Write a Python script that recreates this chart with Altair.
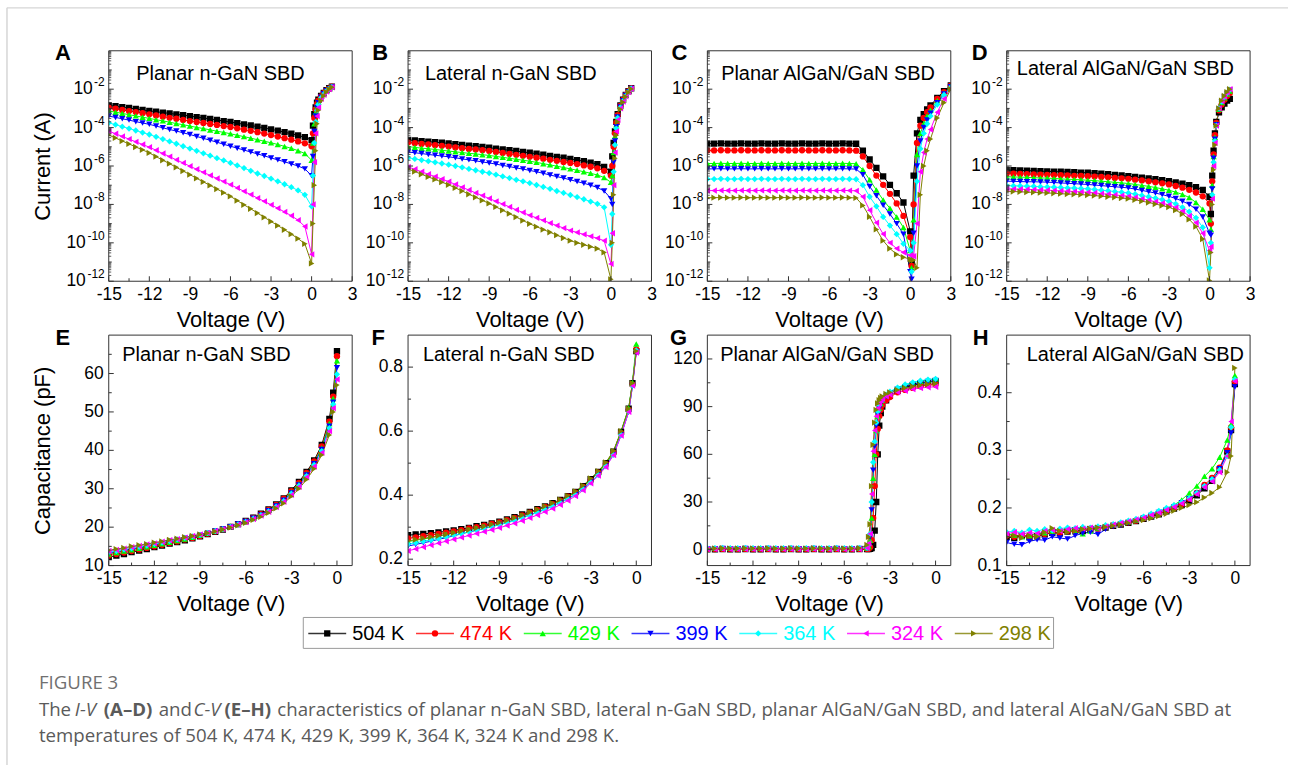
import altair as alt
import pandas as pd

SERIES = ["504 K", "474 K", "429 K", "399 K", "364 K", "324 K", "298 K"]
COLORS = ["#000000", "#ff0000", "#00ff00", "#0000ff", "#00ffff", "#ff00ff", "#808000"]
SHAPES = ["square", "circle", "triangle-up", "triangle-down", "diamond", "triangle-left", "triangle-right"]

# ---------------- voltages ----------------
V_REV = [-15, -14.5, -14, -13.5, -13, -12.5, -12, -11.5, -11, -10.5, -10, -9.5, -9, -8.5, -8, -7.5,
         -7, -6.5, -6, -5.5, -5, -4.5, -4, -3.5, -3, -2.5, -2, -1.5, -1, -0.5, 0]
V_FWD = [0.1, 0.2, 0.3, 0.4, 0.5, 0.7, 0.9, 1.1, 1.3, 1.5]
V_FWD_C = [0.1, 0.25, 0.5, 0.75, 1.0, 1.25, 1.5, 2.0, 2.5, 3.0]
V_CV = [-15, -14.5, -14, -13.5, -13, -12.5, -12, -11.5, -11, -10.5, -10, -9.5, -9, -8.5, -8, -7.5,
        -7, -6.5, -6, -5.5, -5, -4.5, -4, -3.5, -3, -2.5, -2, -1.5, -1, -0.5, -0.25, 0]
V_G = [-15, -14.5, -14, -13.5, -13, -12.5, -12, -11.5, -11, -10.5, -10, -9.5, -9, -8.5, -8, -7.5,
       -7, -6.5, -6, -5.5, -5, -4.5, -4.4, -4.3, -4.2, -4.1, -4.0, -3.9, -3.8, -3.7, -3.6, -3.5,
       -3.25, -3.0, -2.5, -2.0, -1.5, -1.0, -0.5, 0]

# ---------------- I-V data: log10 |I| (A) ----------------
A_REV = [
    [-2.84, -2.89, -2.94, -2.98, -3.03, -3.08, -3.13, -3.17, -3.22, -3.26, -3.31, -3.35, -3.40, -3.45, -3.50, -3.55, -3.60, -3.66, -3.71, -3.77, -3.83, -3.89, -3.95, -4.02, -4.09, -4.16, -4.24, -4.32, -4.41, -4.50, -4.65],
    [-2.96, -3.02, -3.08, -3.14, -3.19, -3.25, -3.31, -3.37, -3.43, -3.49, -3.54, -3.60, -3.66, -3.71, -3.76, -3.81, -3.86, -3.92, -3.97, -4.04, -4.11, -4.17, -4.24, -4.31, -4.39, -4.47, -4.55, -4.63, -4.72, -4.82, -4.97],
    [-3.13, -3.20, -3.26, -3.33, -3.39, -3.46, -3.52, -3.59, -3.65, -3.72, -3.79, -3.85, -3.92, -3.99, -4.05, -4.12, -4.19, -4.25, -4.32, -4.40, -4.47, -4.55, -4.63, -4.71, -4.79, -4.88, -4.98, -5.08, -5.20, -5.35, -5.70],
    [-3.40, -3.47, -3.54, -3.61, -3.69, -3.76, -3.83, -3.92, -4.01, -4.10, -4.18, -4.27, -4.36, -4.46, -4.56, -4.66, -4.76, -4.87, -4.97, -5.07, -5.17, -5.27, -5.37, -5.47, -5.58, -5.68, -5.78, -5.89, -6.00, -6.15, -6.50],
    [-3.75, -3.85, -3.95, -4.05, -4.15, -4.26, -4.36, -4.48, -4.60, -4.72, -4.84, -4.97, -5.09, -5.21, -5.34, -5.46, -5.59, -5.71, -5.84, -5.97, -6.11, -6.25, -6.39, -6.52, -6.66, -6.80, -6.95, -7.10, -7.27, -7.50, -8.10],
    [-4.18, -4.32, -4.46, -4.60, -4.74, -4.88, -5.02, -5.18, -5.35, -5.51, -5.68, -5.84, -6.01, -6.17, -6.33, -6.49, -6.65, -6.81, -6.97, -7.14, -7.32, -7.49, -7.67, -7.84, -8.02, -8.20, -8.39, -8.59, -8.82, -9.15, -10.60],
    [-4.39, -4.54, -4.70, -4.85, -5.01, -5.16, -5.32, -5.51, -5.70, -5.88, -6.07, -6.26, -6.45, -6.64, -6.83, -7.01, -7.20, -7.39, -7.58, -7.80, -8.02, -8.23, -8.45, -8.67, -8.89, -9.10, -9.32, -9.55, -9.78, -10.05, -11.07],
]
A_FWD = [
    [-3.90, -3.30, -2.95, -2.70, -2.55, -2.35, -2.20, -2.05, -1.95, -1.87],
    [-4.30, -3.50, -3.05, -2.78, -2.60, -2.37, -2.21, -2.06, -1.96, -1.87],
    [-4.80, -3.80, -3.20, -2.85, -2.65, -2.40, -2.22, -2.07, -1.96, -1.88],
    [-5.50, -4.20, -3.40, -2.95, -2.70, -2.42, -2.24, -2.08, -1.97, -1.88],
    [-6.50, -4.80, -3.70, -3.10, -2.80, -2.45, -2.26, -2.10, -1.98, -1.89],
    [-8.00, -5.80, -4.30, -3.40, -2.95, -2.50, -2.30, -2.12, -2.00, -1.90],
    [-9.00, -7.00, -5.20, -3.80, -3.10, -2.60, -2.35, -2.15, -2.00, -1.90],
]
B_REV = [
    [-4.64, -4.67, -4.70, -4.73, -4.76, -4.79, -4.82, -4.86, -4.90, -4.94, -4.97, -5.01, -5.05, -5.09, -5.14, -5.18, -5.22, -5.27, -5.31, -5.36, -5.41, -5.47, -5.52, -5.57, -5.63, -5.69, -5.75, -5.82, -5.90, -6.05, -6.30],
    [-4.78, -4.81, -4.85, -4.88, -4.92, -4.95, -4.99, -5.03, -5.07, -5.11, -5.14, -5.18, -5.22, -5.27, -5.32, -5.37, -5.42, -5.47, -5.52, -5.57, -5.62, -5.68, -5.73, -5.79, -5.84, -5.90, -5.97, -6.04, -6.12, -6.25, -6.50],
    [-4.99, -5.03, -5.07, -5.10, -5.14, -5.18, -5.22, -5.26, -5.30, -5.34, -5.37, -5.41, -5.45, -5.50, -5.55, -5.60, -5.65, -5.70, -5.75, -5.81, -5.88, -5.94, -6.01, -6.08, -6.15, -6.22, -6.30, -6.38, -6.47, -6.60, -6.85],
    [-5.27, -5.31, -5.35, -5.40, -5.44, -5.48, -5.52, -5.57, -5.63, -5.68, -5.73, -5.79, -5.84, -5.90, -5.97, -6.03, -6.10, -6.16, -6.23, -6.30, -6.38, -6.47, -6.55, -6.63, -6.72, -6.81, -6.90, -7.00, -7.12, -7.30, -7.70],
    [-5.57, -5.63, -5.69, -5.75, -5.81, -5.87, -5.93, -6.00, -6.07, -6.15, -6.22, -6.30, -6.37, -6.45, -6.54, -6.63, -6.72, -6.80, -6.89, -6.99, -7.09, -7.19, -7.30, -7.40, -7.51, -7.62, -7.73, -7.85, -7.97, -8.15, -10.10],
    [-6.05, -6.17, -6.30, -6.43, -6.55, -6.68, -6.81, -6.96, -7.11, -7.25, -7.40, -7.54, -7.69, -7.84, -7.98, -8.13, -8.28, -8.42, -8.57, -8.70, -8.83, -8.97, -9.10, -9.23, -9.36, -9.46, -9.56, -9.66, -9.76, -9.89, -11.10],
    [-6.15, -6.29, -6.43, -6.57, -6.70, -6.84, -6.98, -7.14, -7.30, -7.47, -7.63, -7.79, -7.95, -8.13, -8.31, -8.48, -8.66, -8.84, -9.01, -9.16, -9.31, -9.45, -9.60, -9.75, -9.89, -10.00, -10.10, -10.20, -10.30, -10.50, -11.90],
]
B_FWD = [
    [-5.50, -4.80, -4.20, -3.70, -3.30, -2.85, -2.55, -2.30, -2.10, -1.95],
    [-6.00, -5.00, -4.30, -3.75, -3.35, -2.87, -2.56, -2.30, -2.10, -1.95],
    [-6.50, -5.30, -4.45, -3.85, -3.40, -2.90, -2.58, -2.32, -2.12, -1.96],
    [-8.00, -5.80, -4.70, -3.95, -3.45, -2.93, -2.60, -2.33, -2.13, -1.96],
    [-8.50, -6.30, -4.90, -4.05, -3.50, -2.95, -2.62, -2.35, -2.14, -1.97],
    [-9.50, -7.00, -5.30, -4.20, -3.60, -3.00, -2.65, -2.37, -2.15, -1.98],
    [-10.00, -7.50, -5.60, -4.40, -3.70, -3.05, -2.68, -2.40, -2.17, -1.99],
]
C_REV = [
    [-4.83, -4.83, -4.82, -4.83, -4.83, -4.82, -4.83, -4.83, -4.82, -4.83, -4.83, -4.82, -4.83, -4.83, -4.82, -4.83, -4.83, -4.82, -4.83, -4.83, -4.82, -4.83, -4.84, -5.20, -5.66, -6.10, -6.54, -6.98, -7.42, -7.90, -9.40],
    [-5.19, -5.19, -5.18, -5.19, -5.19, -5.18, -5.19, -5.19, -5.18, -5.19, -5.19, -5.18, -5.19, -5.19, -5.18, -5.19, -5.19, -5.18, -5.19, -5.19, -5.18, -5.19, -5.20, -5.50, -6.00, -6.50, -6.98, -7.45, -7.95, -8.60, -9.70],
    [-5.87, -5.87, -5.86, -5.87, -5.87, -5.86, -5.87, -5.87, -5.86, -5.87, -5.87, -5.86, -5.87, -5.87, -5.86, -5.87, -5.87, -5.86, -5.87, -5.87, -5.86, -5.87, -5.88, -6.20, -6.72, -7.25, -7.77, -8.20, -8.65, -9.20, -10.40],
    [-6.15, -6.15, -6.14, -6.15, -6.15, -6.14, -6.15, -6.15, -6.14, -6.15, -6.15, -6.14, -6.15, -6.15, -6.14, -6.15, -6.15, -6.14, -6.15, -6.15, -6.14, -6.15, -6.16, -6.45, -7.07, -7.55, -8.04, -8.50, -9.00, -9.55, -11.50],
    [-6.68, -6.68, -6.67, -6.68, -6.68, -6.67, -6.68, -6.68, -6.67, -6.68, -6.68, -6.67, -6.68, -6.68, -6.67, -6.68, -6.68, -6.67, -6.68, -6.68, -6.67, -6.68, -6.69, -7.00, -7.60, -8.10, -8.65, -9.10, -9.55, -10.05, -10.40],
    [-7.28, -7.28, -7.27, -7.28, -7.28, -7.27, -7.28, -7.28, -7.27, -7.28, -7.28, -7.27, -7.28, -7.28, -7.27, -7.28, -7.28, -7.27, -7.28, -7.28, -7.27, -7.28, -7.29, -7.60, -8.30, -8.95, -9.54, -10.00, -10.30, -10.50, -10.65],
    [-7.65, -7.65, -7.64, -7.65, -7.65, -7.64, -7.65, -7.65, -7.64, -7.65, -7.65, -7.64, -7.65, -7.65, -7.64, -7.65, -7.65, -7.64, -7.65, -7.65, -7.64, -7.65, -7.66, -8.05, -8.65, -9.30, -9.89, -10.30, -10.60, -10.75, -10.85],
]
C_FWD = [
    [-11.0, -6.5, -4.3, -3.6, -3.3, -3.05, -2.85, -2.45, -2.10, -1.80],
    [-11.2, -8.0, -4.8, -3.9, -3.5, -3.20, -2.95, -2.50, -2.15, -1.82],
    [-11.3, -8.8, -5.4, -4.3, -3.8, -3.40, -3.10, -2.60, -2.20, -1.85],
    [-11.9, -9.5, -6.0, -4.7, -4.0, -3.60, -3.25, -2.70, -2.25, -1.87],
    [-11.5, -10.0, -6.8, -5.1, -4.3, -3.80, -3.40, -2.80, -2.30, -1.90],
    [-10.7, -10.7, -9.0, -6.3, -5.3, -4.60, -4.10, -3.20, -2.50, -1.95],
    [-10.9, -10.9, -11.3, -7.5, -6.0, -5.20, -4.60, -3.50, -2.70, -2.00],
]
D_REV = [
    [-6.21, -6.22, -6.23, -6.24, -6.25, -6.27, -6.28, -6.29, -6.30, -6.31, -6.32, -6.34, -6.35, -6.37, -6.40, -6.43, -6.46, -6.49, -6.53, -6.57, -6.61, -6.65, -6.69, -6.74, -6.79, -6.85, -6.92, -7.00, -7.10, -7.25, -7.60],
    [-6.39, -6.40, -6.41, -6.42, -6.44, -6.45, -6.46, -6.47, -6.48, -6.49, -6.51, -6.52, -6.53, -6.55, -6.57, -6.59, -6.62, -6.64, -6.67, -6.71, -6.75, -6.80, -6.85, -6.90, -6.96, -7.04, -7.13, -7.24, -7.38, -7.58, -7.95],
    [-6.56, -6.57, -6.58, -6.59, -6.61, -6.62, -6.63, -6.65, -6.67, -6.69, -6.70, -6.72, -6.74, -6.76, -6.79, -6.82, -6.85, -6.88, -6.91, -6.96, -7.01, -7.06, -7.12, -7.19, -7.26, -7.36, -7.48, -7.64, -7.90, -8.25, -8.80],
    [-6.79, -6.80, -6.81, -6.82, -6.82, -6.83, -6.84, -6.86, -6.88, -6.90, -6.92, -6.94, -6.96, -6.99, -7.02, -7.05, -7.08, -7.11, -7.14, -7.20, -7.27, -7.34, -7.41, -7.49, -7.58, -7.69, -7.83, -8.00, -8.25, -8.65, -9.50],
    [-7.02, -7.03, -7.04, -7.05, -7.06, -7.08, -7.09, -7.10, -7.12, -7.14, -7.15, -7.17, -7.19, -7.22, -7.26, -7.29, -7.33, -7.36, -7.40, -7.46, -7.53, -7.60, -7.67, -7.75, -7.84, -7.97, -8.15, -8.38, -8.70, -9.20, -11.30],
    [-7.19, -7.20, -7.21, -7.22, -7.23, -7.25, -7.26, -7.28, -7.30, -7.31, -7.33, -7.35, -7.37, -7.40, -7.44, -7.47, -7.51, -7.54, -7.58, -7.64, -7.71, -7.78, -7.86, -7.94, -8.02, -8.16, -8.35, -8.60, -8.95, -9.50, -10.40],
    [-7.32, -7.33, -7.34, -7.36, -7.37, -7.39, -7.40, -7.42, -7.44, -7.46, -7.47, -7.49, -7.51, -7.54, -7.57, -7.60, -7.63, -7.67, -7.70, -7.76, -7.83, -7.90, -7.98, -8.06, -8.14, -8.30, -8.50, -8.78, -9.15, -9.80, -11.96],
]
D_FWD = [
    [-8.5, -6.5, -5.2, -4.3, -3.70, -3.2, -2.95, -2.75, -2.60, -2.50],
    [-9.0, -6.8, -5.4, -4.4, -3.75, -3.1, -2.80, -2.55, -2.35, -2.20],
    [-9.3, -7.0, -5.5, -4.5, -3.80, -3.05, -2.70, -2.45, -2.25, -2.10],
    [-9.6, -7.2, -5.6, -4.6, -3.85, -3.05, -2.68, -2.42, -2.22, -2.05],
    [-10.0, -7.5, -5.8, -4.7, -3.90, -3.0, -2.65, -2.40, -2.20, -2.03],
    [-10.2, -7.7, -6.0, -4.8, -3.90, -3.0, -2.62, -2.37, -2.17, -2.00],
    [-10.5, -8.0, -6.2, -4.9, -3.90, -3.0, -2.60, -2.35, -2.15, -2.00],
]

# ---------------- C-V data ----------------
E_C = [  # pF
    [12.2, 12.6, 13.0, 13.5, 13.9, 14.3, 14.8, 15.2, 15.7, 16.1, 16.6, 17.1, 17.6, 18.2, 18.8, 19.4, 20.1, 20.8, 21.6, 22.5, 23.5, 24.6, 25.9, 27.5, 29.6, 31.8, 34.4, 37.4, 41.4, 48.2, 55.0, 65.8],
    [12.6, 13.0, 13.4, 13.8, 14.2, 14.6, 15.0, 15.4, 15.9, 16.3, 16.8, 17.2, 17.7, 18.3, 18.9, 19.5, 20.1, 20.8, 21.5, 22.4, 23.4, 24.5, 25.8, 27.4, 29.4, 31.5, 34.1, 37.1, 41.0, 47.5, 54.0, 64.5],
    [13.0, 13.4, 13.8, 14.1, 14.5, 14.9, 15.3, 15.7, 16.1, 16.5, 16.9, 17.4, 17.9, 18.4, 19.0, 19.6, 20.2, 20.9, 21.6, 22.4, 23.3, 24.4, 25.7, 27.2, 29.2, 31.3, 33.9, 36.8, 40.6, 47.0, 53.5, 63.3],
    [13.3, 13.6, 14.0, 14.3, 14.7, 15.1, 15.5, 15.9, 16.3, 16.7, 17.1, 17.5, 17.9, 18.4, 19.0, 19.5, 20.1, 20.8, 21.5, 22.3, 23.2, 24.3, 25.5, 27.0, 28.9, 31.0, 33.6, 36.5, 40.2, 46.3, 52.5, 61.5],
    [13.5, 13.8, 14.2, 14.5, 14.9, 15.2, 15.6, 16.0, 16.4, 16.8, 17.2, 17.6, 18.0, 18.5, 19.0, 19.5, 20.1, 20.7, 21.4, 22.2, 23.1, 24.1, 25.3, 26.8, 28.7, 30.8, 33.3, 36.2, 39.8, 45.8, 52.0, 59.8],
    [13.8, 14.1, 14.4, 14.8, 15.1, 15.5, 15.8, 16.2, 16.6, 16.9, 17.3, 17.7, 18.1, 18.5, 19.0, 19.5, 20.1, 20.7, 21.3, 22.1, 23.0, 24.0, 25.2, 26.6, 28.4, 30.5, 33.0, 35.8, 39.4, 45.0, 51.0, 58.5],
    [14.0, 14.3, 14.6, 15.0, 15.3, 15.6, 16.0, 16.3, 16.7, 17.0, 17.4, 17.7, 18.1, 18.5, 18.9, 19.4, 19.9, 20.5, 21.1, 21.9, 22.7, 23.7, 24.9, 26.2, 28.0, 30.0, 32.4, 35.2, 38.8, 44.0, 50.0, 57.0],
]
F_C = [  # pF
    [0.275, 0.277, 0.279, 0.281, 0.284, 0.287, 0.290, 0.294, 0.298, 0.303, 0.307, 0.312, 0.317, 0.324, 0.331, 0.340, 0.348, 0.356, 0.365, 0.375, 0.385, 0.397, 0.410, 0.428, 0.450, 0.473, 0.500, 0.536, 0.598, 0.670, 0.750, 0.850],
    [0.265, 0.268, 0.272, 0.275, 0.279, 0.283, 0.287, 0.291, 0.296, 0.300, 0.305, 0.310, 0.315, 0.322, 0.329, 0.337, 0.345, 0.354, 0.363, 0.372, 0.383, 0.395, 0.408, 0.426, 0.447, 0.470, 0.497, 0.533, 0.594, 0.666, 0.745, 0.855],
    [0.255, 0.259, 0.263, 0.267, 0.272, 0.277, 0.282, 0.287, 0.292, 0.297, 0.302, 0.307, 0.313, 0.320, 0.328, 0.336, 0.344, 0.353, 0.362, 0.372, 0.383, 0.395, 0.408, 0.426, 0.448, 0.471, 0.498, 0.535, 0.598, 0.672, 0.752, 0.872],
    [0.241, 0.246, 0.251, 0.256, 0.262, 0.267, 0.273, 0.279, 0.285, 0.290, 0.296, 0.302, 0.308, 0.315, 0.322, 0.330, 0.338, 0.347, 0.356, 0.366, 0.377, 0.389, 0.402, 0.420, 0.441, 0.464, 0.491, 0.527, 0.588, 0.660, 0.740, 0.848],
    [0.247, 0.251, 0.256, 0.260, 0.265, 0.270, 0.275, 0.280, 0.286, 0.291, 0.296, 0.302, 0.307, 0.314, 0.321, 0.329, 0.337, 0.346, 0.355, 0.365, 0.376, 0.388, 0.401, 0.419, 0.440, 0.463, 0.490, 0.526, 0.588, 0.662, 0.742, 0.852],
    [0.226, 0.232, 0.238, 0.244, 0.250, 0.256, 0.262, 0.268, 0.274, 0.280, 0.286, 0.292, 0.298, 0.305, 0.312, 0.320, 0.329, 0.338, 0.348, 0.358, 0.370, 0.383, 0.397, 0.415, 0.437, 0.461, 0.488, 0.525, 0.586, 0.660, 0.742, 0.845],
    [0.257, 0.261, 0.265, 0.269, 0.273, 0.277, 0.282, 0.287, 0.292, 0.297, 0.302, 0.308, 0.314, 0.321, 0.329, 0.337, 0.346, 0.355, 0.365, 0.375, 0.386, 0.398, 0.412, 0.430, 0.452, 0.475, 0.502, 0.538, 0.600, 0.670, 0.750, 0.850],
]
G_C = [  # pF
    [0.2, 0.2, 0.3, 0.2, 0.2, 0.3, 0.2, 0.2, 0.3, 0.2, 0.2, 0.3, 0.2, 0.2, 0.3, 0.2, 0.2, 0.3, 0.2, 0.2, 0.3,
     0.3, 0.4, 0.5, 1.0, 3.0, 12, 30, 60, 78, 86, 90, 94, 97, 100, 102, 103.5, 104.5, 105.3, 106],
    [0.4, 0.4, 0.5, 0.4, 0.4, 0.5, 0.4, 0.4, 0.5, 0.4, 0.4, 0.5, 0.4, 0.4, 0.5, 0.4, 0.4, 0.5, 0.4, 0.4, 0.5,
     0.5, 0.6, 1.5, 6, 20, 40, 60, 76, 84, 88, 91, 94, 96, 99, 100.5, 101.8, 102.8, 103.5, 104],
    [0.9, 0.9, 1.0, 0.9, 0.9, 1.0, 0.9, 0.9, 1.0, 0.9, 0.9, 1.0, 0.9, 0.9, 1.0, 0.9, 0.9, 1.0, 0.9, 0.9, 1.0,
     1.0, 2, 6, 20, 45, 60, 75, 84, 89, 92, 94, 97, 99, 102, 103.5, 105, 106, 106.8, 107.5],
    [0.6, 0.6, 0.7, 0.6, 0.6, 0.7, 0.6, 0.6, 0.7, 0.6, 0.6, 0.7, 0.6, 0.6, 0.7, 0.6, 0.6, 0.7, 0.6, 0.6, 0.7,
     0.8, 2, 8, 25, 50, 65, 78, 85, 89, 92, 94, 96.5, 98.5, 101, 102.5, 104, 105, 105.8, 106.5],
    [1.0, 1.0, 1.1, 1.0, 1.0, 1.1, 1.0, 1.0, 1.1, 1.0, 1.0, 1.1, 1.0, 1.0, 1.1, 1.0, 1.0, 1.1, 1.0, 1.0, 1.1,
     1.2, 3, 10, 30, 55, 68, 80, 87, 91, 93.5, 95, 97.5, 99.5, 102, 104, 105.3, 106.3, 107, 107.5],
    [0.3, 0.3, 0.4, 0.3, 0.3, 0.4, 0.3, 0.3, 0.4, 0.3, 0.3, 0.4, 0.3, 0.3, 0.4, 0.3, 0.3, 0.4, 0.3, 0.3, 0.4,
     1.0, 4, 10, 35, 62, 75, 84, 89, 92, 94, 95, 96.5, 97.5, 99, 100, 101, 101.7, 102.2, 102.5],
    [0.8, 0.8, 0.9, 0.8, 0.8, 0.9, 0.8, 0.8, 0.9, 0.8, 0.8, 0.9, 0.8, 0.8, 0.9, 0.8, 0.8, 0.9, 0.8, 0.8, 1.0,
     3, 8, 16, 40, 66, 80, 88, 92, 94, 95.5, 96.5, 98, 99, 100.5, 101.8, 102.7, 103.4, 104, 104.5],
]
H_C = [  # pF
    [0.150, 0.148, 0.152, 0.149, 0.151, 0.154, 0.157, 0.156, 0.159, 0.161, 0.160, 0.163, 0.165, 0.166, 0.169, 0.171, 0.174, 0.177, 0.181, 0.185, 0.189, 0.194, 0.199, 0.205, 0.213, 0.222, 0.234, 0.247, 0.266, 0.298, 0.335, 0.415],
    [0.152, 0.150, 0.153, 0.151, 0.150, 0.155, 0.158, 0.157, 0.160, 0.158, 0.162, 0.164, 0.164, 0.167, 0.170, 0.172, 0.175, 0.178, 0.182, 0.186, 0.190, 0.195, 0.200, 0.207, 0.216, 0.226, 0.240, 0.252, 0.270, 0.300, 0.340, 0.420],
    [0.155, 0.153, 0.150, 0.152, 0.155, 0.157, 0.160, 0.162, 0.164, 0.159, 0.155, 0.160, 0.165, 0.168, 0.171, 0.173, 0.176, 0.179, 0.183, 0.187, 0.192, 0.198, 0.205, 0.214, 0.226, 0.238, 0.255, 0.268, 0.288, 0.318, 0.345, 0.430],
    [0.140, 0.137, 0.136, 0.142, 0.145, 0.144, 0.150, 0.148, 0.146, 0.152, 0.156, 0.158, 0.154, 0.163, 0.168, 0.170, 0.174, 0.178, 0.182, 0.187, 0.192, 0.197, 0.202, 0.209, 0.216, 0.225, 0.236, 0.249, 0.268, 0.296, 0.330, 0.410],
    [0.158, 0.160, 0.157, 0.162, 0.160, 0.163, 0.161, 0.164, 0.166, 0.165, 0.167, 0.166, 0.168, 0.170, 0.172, 0.175, 0.178, 0.181, 0.185, 0.190, 0.195, 0.200, 0.205, 0.210, 0.217, 0.226, 0.238, 0.250, 0.266, 0.290, 0.340, 0.423],
    [0.155, 0.158, 0.155, 0.157, 0.156, 0.160, 0.162, 0.160, 0.163, 0.165, 0.164, 0.166, 0.165, 0.168, 0.171, 0.174, 0.177, 0.180, 0.183, 0.188, 0.192, 0.197, 0.202, 0.208, 0.215, 0.224, 0.236, 0.246, 0.262, 0.290, 0.350, 0.420],
    [0.150, 0.152, 0.148, 0.152, 0.150, 0.158, 0.165, 0.160, 0.158, 0.160, 0.163, 0.164, 0.166, 0.167, 0.169, 0.171, 0.174, 0.177, 0.179, 0.182, 0.186, 0.190, 0.195, 0.200, 0.205, 0.210, 0.218, 0.226, 0.236, 0.262, 0.290, 0.443],
]

# ---------------- axis ticks & labels ----------------
X_TOP = [-15, -12, -9, -6, -3, 0, 3]
X_TOP_MINOR = [-13.5, -10.5, -7.5, -4.5, -1.5, 1.5]
X_BOT = [-15, -12, -9, -6, -3, 0]
X_BOT_MINOR = [-13.5, -10.5, -7.5, -4.5, -1.5]
IV_TICKS = [1e-2, 1e-4, 1e-6, 1e-8, 1e-10, 1e-12]
IV_EXP = ["-2", "-4", "-6", "-8", "-10", "-12"]
IV_ODD = [1e-1, 1e-3, 1e-5, 1e-7, 1e-9, 1e-11]
IV_MINOR = [m * 10.0 ** k for k in range(-12, 0) for m in range(2, 10)]
E_TICKS, E_LAB, E_MINOR = [10, 20, 30, 40, 50, 60], ["10", "20", "30", "40", "50", "60"], [15, 25, 35, 45, 55, 65]
F_TICKS, F_LAB, F_MINOR = [0.2, 0.4, 0.6, 0.8], ["0.2", "0.4", "0.6", "0.8"], [0.3, 0.5, 0.7]
G_TICKS, G_LAB, G_MINOR = [0, 30, 60, 90, 120], ["0", "30", "60", "90", "120"], [15, 45, 75, 105]
H_TICKS, H_LAB, H_MINOR = [0.1, 0.2, 0.3, 0.4], ["0.1", "0.2", "0.3", "0.4"], [0.15, 0.25, 0.35, 0.45]

TITLES = ["Planar n-GaN SBD", "Lateral n-GaN SBD", "Planar AlGaN/GaN SBD", "Lateral AlGaN/GaN SBD"]

# ---------------- helpers ----------------
FONT = "Liberation Sans"
W, H = 244, 231
INK = "#333333"
ONE = pd.DataFrame({"o": [0]})
MSIZE = 40

color = alt.Color("T:N", scale=alt.Scale(domain=SERIES, range=COLORS), legend=None)
shape = alt.Shape("T:N", scale=alt.Scale(domain=SERIES, range=SHAPES), legend=None)


def long_iv(vr, rev, vf, fwd):
    rows = []
    for k, s in enumerate(SERIES):
        xs = vr + vf
        es = rev[k] + fwd[k]
        assert len(xs) == len(es), (s, len(xs), len(es))
        for v, e in zip(xs, es):
            rows.append({"V": v, "Y": 10.0 ** e, "T": s})
    return pd.DataFrame(rows)


def long_cv(vs, vals):
    rows = []
    for k, s in enumerate(SERIES):
        assert len(vs) == len(vals[k]), (s, len(vs), len(vals[k]))
        for v, c in zip(vs, vals[k]):
            rows.append({"V": v, "Y": c, "T": s})
    return pd.DataFrame(rows)


def txt(text, x, y, size, weight="normal", align="center", col="black", font=FONT, style="normal", angle=0):
    return alt.Chart(ONE).mark_text(text=text, fontSize=size, fontWeight=weight, align=align,
                                    baseline="middle", color=col, font=font, fontStyle=style,
                                    angle=angle).encode(x=alt.value(x), y=alt.value(y))


def panel(df, xdom, xlab, xminor, ydom, ylog, ymaj, ymin, ylab, letter, lx, ly, title, tx, ty,
          ytitle=None, extra=()):
    xs = alt.Scale(domain=xdom, nice=False, zero=False)
    if ylog:
        ys = alt.Scale(type="log", domain=ydom, nice=False)
    else:
        ys = alt.Scale(domain=ydom, nice=False, zero=False)
    xaxis = alt.Axis(values=xlab, labelExpr="toString(datum.value)", labelFont=FONT, labelFontSize=17.5,
                     labelColor="black", labelPadding=4, labelFlush=False, labelOverlap=False,
                     ticks=False, domain=False, grid=False, title="Voltage (V)", titleFont=FONT,
                     titleFontSize=22, titleFontWeight="normal", titleColor="black", titleY=38,
                     titleBaseline="middle")
    X = alt.X("V:Q", scale=xs, axis=xaxis)
    Y = alt.Y("Y:Q", scale=ys, axis=None)
    layers = list(extra)
    layers.append(alt.Chart(df).mark_line(strokeWidth=1, clip=True).encode(x=X, y=Y, color=color))
    layers.append(alt.Chart(df).mark_point(filled=True, size=MSIZE, opacity=1, clip=True)
                  .encode(x=X, y=Y, color=color, shape=shape))
    layers.append(alt.Chart(pd.DataFrame({"V": xlab})).mark_rule(color=INK)
                  .encode(x=X, y=alt.value(H), y2=alt.value(H - 5)))
    layers.append(alt.Chart(pd.DataFrame({"V": xminor})).mark_rule(color=INK)
                  .encode(x=X, y=alt.value(H), y2=alt.value(H - 3)))
    layers.append(alt.Chart(pd.DataFrame({"Y": ymaj})).mark_rule(color=INK)
                  .encode(y=Y, x=alt.value(0), x2=alt.value(5)))
    layers.append(alt.Chart(pd.DataFrame({"Y": ymin})).mark_rule(color=INK)
                  .encode(y=Y, x=alt.value(0), x2=alt.value(3)))
    if ylog:
        lab = pd.DataFrame({"Y": ymaj, "e": ylab})
        one = lab[lab["e"].str.len() == 2]
        two = lab[lab["e"].str.len() == 3]
        layers.append(alt.Chart(pd.DataFrame({"Y": IV_MINOR})).mark_rule(color=INK, strokeWidth=0.8)
                      .encode(y=Y, x=alt.value(0), x2=alt.value(2.5)))
        for part, xten in ((one, -16), (two, -23)):
            layers.append(alt.Chart(part).mark_text(text="10", align="right", baseline="middle",
                                                    fontSize=17.5, font=FONT, color="black")
                          .encode(y=Y, x=alt.value(xten)))
            layers.append(alt.Chart(part).mark_text(align="right", baseline="middle", dy=-7,
                                                    fontSize=12, font=FONT, color="black")
                          .encode(y=Y, x=alt.value(-4), text="e:N"))
    else:
        lab = pd.DataFrame({"Y": ymaj, "lab": ylab})
        layers.append(alt.Chart(lab).mark_text(align="right", baseline="middle", fontSize=17.5,
                                               font=FONT, color="black")
                      .encode(y=Y, x=alt.value(-5), text="lab:N"))
    layers.append(txt(letter, lx, ly, 22, weight="bold"))
    layers.append(txt(title, tx, ty, 20))
    if ytitle:
        layers.append(txt(ytitle, -66, 116, 22, angle=270))
    layers.append(alt.Chart(ONE).mark_rect(fillOpacity=0, stroke=INK, strokeWidth=1)
                  .encode(x=alt.value(0), x2=alt.value(W), y=alt.value(0), y2=alt.value(H)))
    return alt.layer(*layers).properties(width=W, height=H)


# page frame (panel A's origin is at page x=108, y=49)
page = [
    alt.Chart(ONE).mark_rect(opacity=0).encode(x=alt.value(-108), x2=alt.value(1182),
                                                y=alt.value(-49), y2=alt.value(716)),
    alt.Chart(ONE).mark_rule(color="#d6d6d6", strokeWidth=1.5).encode(x=alt.value(-102), x2=alt.value(1182),
                                                                      y=alt.value(-43)),
    alt.Chart(ONE).mark_rule(color="#d6d6d6", strokeWidth=1.5).encode(x=alt.value(-102), y=alt.value(-43),
                                                                      y2=alt.value(716)),
]

LOG_DOM = [1e-12, 1]
pA = panel(long_iv(V_REV, A_REV, V_FWD, A_FWD), [-15, 3], X_TOP, X_TOP_MINOR, LOG_DOM, True, IV_TICKS, IV_ODD,
           IV_EXP, "A", -46, 2, TITLES[0], 112, 23, ytitle="Current (A)", extra=page)
pB = panel(long_iv(V_REV, B_REV, V_FWD, B_FWD), [-15, 3], X_TOP, X_TOP_MINOR, LOG_DOM, True, IV_TICKS, IV_ODD,
           IV_EXP, "B", -28, 2, TITLES[1], 103, 23)
pC = panel(long_iv(V_REV, C_REV, V_FWD_C, C_FWD), [-15, 3], X_TOP, X_TOP_MINOR, LOG_DOM, True, IV_TICKS, IV_ODD,
           IV_EXP, "C", -28, 2, TITLES[2], 121, 23)
pD = panel(long_iv(V_REV, D_REV, V_FWD, D_FWD), [-15, 3], X_TOP, X_TOP_MINOR, LOG_DOM, True, IV_TICKS, IV_ODD,
           IV_EXP, "D", -27, 2, TITLES[3], 119, 18)

pE = panel(long_cv(V_CV, E_C), [-15, 1], X_BOT, X_BOT_MINOR, [10, 70], False, E_TICKS, E_MINOR, E_LAB,
           "E", -46, 3, TITLES[0], 98, 20, ytitle="Capacitance (pF)")
pF = panel(long_cv(V_CV, F_C), [-15, 1], X_BOT, X_BOT_MINOR, [0.18, 0.9], False, F_TICKS, F_MINOR, F_LAB,
           "F", -30, 3, TITLES[1], 101, 20)
pG = panel(long_cv(V_G, G_C), [-15, 1], X_BOT, X_BOT_MINOR, [-10, 135], False, G_TICKS, G_MINOR, G_LAB,
           "G", -29, 3, TITLES[2], 120, 20)
pH = panel(long_cv(V_CV, H_C), [-15, 1], X_BOT, X_BOT_MINOR, [0.1, 0.5], False, H_TICKS, H_MINOR, H_LAB,
           "H", -26, 3, TITLES[3], 129, 20)

# ---------------- legend + caption cell (origin at page x=108, y=619) ----------------
LEG = pd.DataFrame({"T": SERIES, "k": list(range(len(SERIES)))})
lx = alt.X("k:Q", scale=alt.Scale(domain=[0, 6], range=[200, 848]), axis=None)
CAP = "#5a5a5a"
CF = "Open Sans"
CS = 18.7
legend_row = alt.layer(
    alt.Chart(ONE).mark_rect(fillOpacity=0, stroke="#9a9a9a", strokeWidth=1)
    .encode(x=alt.value(195), x2=alt.value(947), y=alt.value(-2), y2=alt.value(29)),
    alt.Chart(LEG).mark_rule(strokeWidth=1.5, x2Offset=38, opacity=0.8)
    .encode(x=lx, x2=alt.X2("k"), y=alt.value(14), color=color),
    alt.Chart(LEG).mark_point(filled=True, size=MSIZE, opacity=1, xOffset=19)
    .encode(x=lx, y=alt.value(14), color=color, shape=shape),
    alt.Chart(LEG).mark_text(align="left", baseline="middle", dx=44, fontSize=20, font=FONT)
    .encode(x=lx, y=alt.value(15), text="T:N", color=color),
    txt("FIGURE 3", -70, 64, CS, align="left", col="#707070", font=CF),
    txt("The", -70, 91, CS, align="left", col=CAP, font=CF),
    txt("I-V", -34, 91, CS, align="left", col=CAP, font=CF, style="italic"),
    txt("(A–D)", -5, 91, CS, weight="bold", align="left", col=CAP, font=CF),
    txt("and", 50, 91, CS, align="left", col=CAP, font=CF),
    txt("C-V", 85, 91, CS, align="left", col=CAP, font=CF, style="italic"),
    txt("(E–H)", 116, 91, CS, weight="bold", align="left", col=CAP, font=CF),
    txt("characteristics of planar n-GaN SBD, lateral n-GaN SBD, planar AlGaN/GaN SBD, and lateral AlGaN/GaN SBD at",
        169, 91, CS, align="left", col=CAP, font=CF),
    txt("temperatures of 504 K, 474 K, 429 K, 399 K, 364 K, 324 K and 298 K.", -70, 117, CS, align="left",
        col=CAP, font=CF),
).properties(width=W, height=31)

chart = (
    alt.concat(pA, pB, pC, pD, pE, pF, pG, pH, legend_row, columns=4,
               spacing={"row": 54, "column": 56}, bounds="flush")
    .properties(padding=0, autosize=alt.AutoSizeParams(type="pad"))
    .configure_view(stroke="transparent")
)
chart.save("out.html", embed_options={"renderer": "svg", "actions": False})
